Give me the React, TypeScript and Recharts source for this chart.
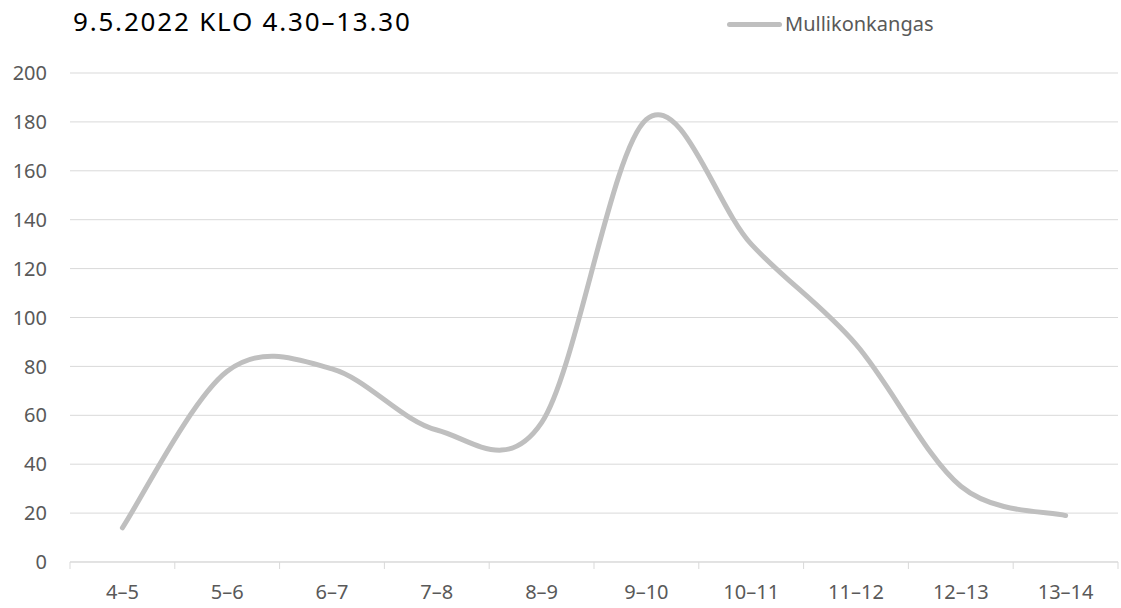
import React from 'react';
import {
  LineChart,
  Line,
  XAxis,
  YAxis,
  CartesianGrid,
  Legend,
} from 'recharts';

// Hourly counts, 9.5.2022
const hours = ['4–5', '5–6', '6–7', '7–8', '8–9', '9–10', '10–11', '11–12', '12–13', '13–14'];
const mullikonkangas = [14, 78, 79, 54, 57, 181, 130, 89, 31, 19];
const yTicks = [0, 20, 40, 60, 80, 100, 120, 140, 160, 180, 200];

const data = hours.map((hour, i) => ({ hour, value: mullikonkangas[i] }));

const FONT = '"Noto Sans", sans-serif';
const TEXT = '#595959';
const GRID = '#d9d9d9';
const LINE = '#bfbfbf';

// Excel-style smoothed line (cardinal bezier, 1/6 tension)
const smoothCurve = (context: any) => {
  let pts: [number, number][] = [];
  return {
    areaStart() {},
    areaEnd() {},
    lineStart() {
      pts = [];
    },
    point(x: number, y: number) {
      pts.push([+x, +y]);
    },
    lineEnd() {
      if (!pts.length) return;
      context.moveTo(pts[0][0], pts[0][1]);
      for (let i = 0; i < pts.length - 1; i++) {
        const p0 = pts[i - 1] ?? pts[i];
        const p1 = pts[i];
        const p2 = pts[i + 1];
        const p3 = pts[i + 2] ?? p2;
        context.bezierCurveTo(
          p1[0] + (p2[0] - p0[0]) / 6,
          p1[1] + (p2[1] - p0[1]) / 6,
          p2[0] - (p3[0] - p1[0]) / 6,
          p2[1] - (p3[1] - p1[1]) / 6,
          p2[0],
          p2[1]
        );
      }
    },
  };
};

const TICK_GAP = 23;

// category label plus tick marks on the band boundaries
const HourTick = (props: any) => {
  const { x, y, payload, index, visibleTicksCount } = props;
  const half = payload.offset || 0;
  const axisY = y - TICK_GAP;
  const last = index === visibleTicksCount - 1;
  return (
    <g>
      <line x1={x - half} x2={x - half} y1={axisY} y2={axisY + 7} stroke={GRID} strokeWidth={1} />
      {last && <line x1={x + half} x2={x + half} y1={axisY} y2={axisY + 7} stroke={GRID} strokeWidth={1} />}
      <text x={x} y={y} dy="0.71em" textAnchor="middle" fill={TEXT} fontSize={20} fontFamily={FONT}>
        {payload.value}
      </text>
    </g>
  );
};

const renderLegend = () => (
  <div style={{ display: 'flex', alignItems: 'center', height: 28, fontFamily: FONT }}>
    <span style={{ display: 'inline-block', width: 55, height: 5, borderRadius: 3, background: LINE, marginRight: 3 }} />
    <span style={{ fontSize: 20, lineHeight: '28px', color: TEXT }}>Mullikonkangas</span>
  </div>
);

export default function App() {
  return (
    <div style={{ position: 'relative', width: 1121, height: 608, background: '#fff' }}>
      <style>{'body{margin:0}'}</style>
      <div
        style={{
          position: 'absolute',
          left: 73,
          top: 8,
          fontFamily: FONT,
          fontSize: 26,
          lineHeight: 1,
          letterSpacing: 1.8,
          color: '#000',
          whiteSpace: 'nowrap',
          zIndex: 1,
        }}
      >
        9.5.2022 KLO 4.30–13.30
      </div>
      <LineChart
        width={1121}
        height={608}
        data={data}
        margin={{ top: 73, right: 3, bottom: 16, left: 0 }}
        style={{ fontFamily: FONT }}
      >
        <CartesianGrid vertical={false} stroke={GRID} strokeWidth={1} />
        <XAxis
          dataKey="hour"
          scale="band"
          height={30}
          axisLine={{ stroke: GRID }}
          tickLine={false}
          tickSize={0}
          tickMargin={TICK_GAP}
          interval={0}
          tick={<HourTick />}
        />
        <YAxis
          width={70}
          domain={[0, 200]}
          ticks={yTicks}
          axisLine={false}
          tickLine={false}
          tickSize={0}
          tickMargin={23}
          tick={{ fill: TEXT, fontSize: 20, fontFamily: FONT }}
        />
        <Legend
          layout="vertical"
          verticalAlign="middle"
          align="center"
          content={renderLegend}
          wrapperStyle={{ top: 10, left: 727, width: 'auto' }}
        />
        <Line
          dataKey="value"
          name="Mullikonkangas"
          type={smoothCurve as any}
          stroke={LINE}
          strokeWidth={5}
          strokeLinecap="round"
          dot={false}
          activeDot={false}
          isAnimationActive={false}
        />
      </LineChart>
    </div>
  );
}
